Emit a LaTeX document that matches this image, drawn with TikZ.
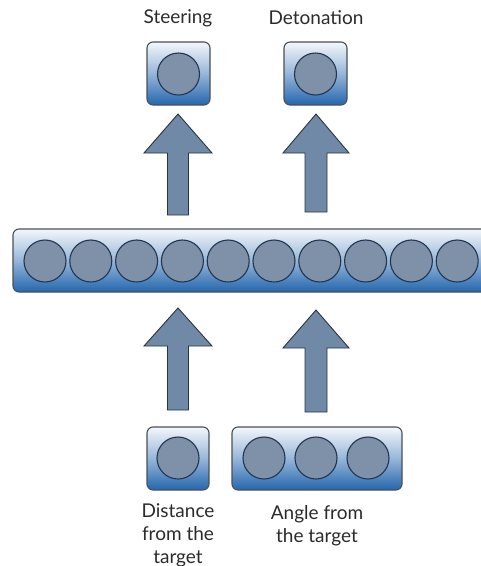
\documentclass[tikz,border=0pt]{standalone}
\usepackage{fontspec}
\setmainfont{Lato}
\usetikzlibrary{calc}
\definecolor{boxtop}{HTML}{F4F7FB}
\definecolor{boxbot}{HTML}{2466AE}
\definecolor{boxedge}{HTML}{4A5058}
\definecolor{unitfill}{HTML}{7F91A9}
\definecolor{unitedge}{HTML}{223650}
\definecolor{arrowfill}{HTML}{7089A6}
\definecolor{arrowedge}{HTML}{2A3340}
\definecolor{labelcol}{HTML}{2B2B2B}
\tikzset{
  layerbox/.style={draw=boxedge, line width=1.1pt, rounded corners=6pt,
    top color=boxtop, bottom color=boxbot, middle color=boxtop!55!boxbot,
    shading angle=0},
  unit/.style={circle, draw=unitedge, line width=1.1pt, fill=unitfill,
    minimum size=42pt, inner sep=0pt},
  bigarrow/.style={draw=arrowedge, line width=0.9pt, fill=arrowfill, line join=miter},
  lbl/.style={font=\fontsize{19}{23}\selectfont, text=labelcol, align=center, inner sep=0pt}
}
% block arrow pointing up: tip, half head width, head depth, half shaft width, bottom
\newcommand{\uparrowshape}[5]{%
  \path[bigarrow] ($(#1)$) -- ++(#2,#3) -- ++(-#2+#4,0) |- ($(#1)+(#4,#5)$) -- ++(-2*#4,0)
    |- ($(#1)+(-#4,#3)$) -- ++(-#2+#4,0) -- cycle;}
\begin{document}
\begin{tikzpicture}[x=1pt,y=-1pt]
  \useasboundingbox (0,0) rectangle (481,566);

  % output layer
  \node[lbl] (lsteer) at (178,18) {Steering};
  \node[lbl] (ldeton) at (316,18) {Detonation};
  \path[layerbox] (147,42) rectangle (210,105);
  \node[unit] (o1) at (178.5,74) {};
  \path[layerbox] (284,42) rectangle (347,105);
  \node[unit] (o2) at (315.5,74) {};

  % hidden layer (extends past the right edge)
  \path[layerbox] (13,229) rectangle (500,292);
  \foreach \i in {0,...,9}{
    \node[unit] (h\i) at (45+45.8*\i,261) {};
  }

  % input layer
  \path[layerbox] (147,427) rectangle (209,490);
  \node[unit] (i1) at (178,458) {};
  \path[layerbox] (232,427) rectangle (402,490);
  \node[unit] (i2) at (264,458) {};
  \node[unit] (i3) at (316,458) {};
  \node[unit] (i4) at (368,458) {};

  \node[lbl] (ldist) at (178,535) {Distance\\from the\\target};
  \node[lbl] (langle) at (317,526) {Angle from\\the target};

  % connecting arrows
  \coordinate (a1) at (178,114);
  \coordinate (a2) at (316,114);
  \coordinate (a3) at (178,308);
  \coordinate (a4) at (316,310);
  \uparrowshape{a1}{34}{39}{10.5}{101}
  \uparrowshape{a2}{33}{39}{11}{98}
  \uparrowshape{a3}{34}{38}{10.5}{102}
  \uparrowshape{a4}{33}{38}{11}{102}
\end{tikzpicture}
\end{document}
